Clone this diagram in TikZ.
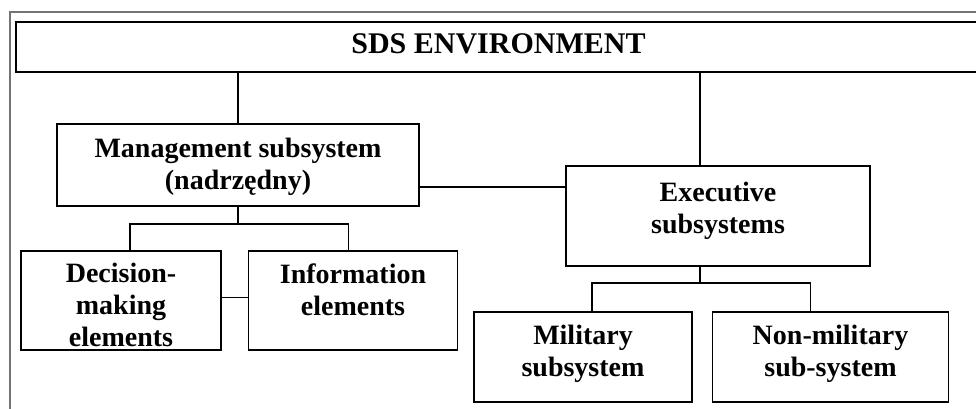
\documentclass[tikz,border=0pt]{standalone}
\usepackage{fontspec}
\setmainfont{Liberation Serif}
\usetikzlibrary{positioning}

\begin{document}
\begin{tikzpicture}[
    x=1pt, y=-1pt,
    font=\fontsize{28}{32}\selectfont\bfseries,
    box/.style={rectangle, draw=black, line width=1.5pt, inner sep=0pt},
    txt/.style={anchor=north, align=center, inner sep=0pt, yshift=-#1},
    txt/.default=14pt,
    link/.style={draw=black, line width=1.4pt},
    frame/.style={draw=black!55, line width=1.2pt}]

    \useasboundingbox (0,0) rectangle (976,408);
    \draw[frame] (10,430) |- (990,12);

    % top level
    \node[box, minimum width=965pt, minimum height=50pt,
          label={[txt=12pt, font=\fontsize{30}{34}\selectfont\bfseries]north:SDS ENVIRONMENT}]
      (env) at (498.5,47) {};

    \node[box, minimum width=362pt, minimum height=82pt,
          label={[txt=15pt]north:Management subsystem\\(nadrzędny)}]
      (mgmt) at (238,165) {};

    \node[box, minimum width=304pt, minimum height=100pt,
          label={[txt=17pt]north:Executive\\subsystems}]
      (exec) at (718,216) {};

    % elements of the management subsystem
    \node[box, minimum width=200pt, minimum height=99pt,
          label={[txt=13pt]north:Decision-\\making\\elements}]
      (dec) at (121,300.5) {};

    \node[box, minimum width=209pt, minimum height=99pt, right=26pt of dec,
          label={[txt=13pt]north:Information\\elements}]
      (info) {};

    % executive subsystems
    \node[box, minimum width=218pt, minimum height=90pt,
          label={[txt=14pt]north:Military\\subsystem}]
      (mil) at (583,357) {};

    \node[box, minimum width=236pt, minimum height=90pt, right=19pt of mil,
          label={[txt=14pt]north:Non-military\\sub-system}]
      (nonmil) {};

    % connections
    \draw[link] (mgmt.north) -- (mgmt.north |- env.south);
    \draw[link] ([xshift=-18pt]exec.north) -- ([xshift=-18pt]exec.north |- env.south);
    \draw[link] ([yshift=-22pt]mgmt.east) -- ([yshift=-22pt]mgmt.east -| exec.west);

    \coordinate (mbar) at (238,224);
    \draw[link] (mgmt.south) -- (mbar);
    \draw[link] ([xshift=9pt]dec.north) |- (mbar) -| ([xshift=-4.5pt]info.north);
    \draw[link] ([yshift=3pt]dec.east) -- ([yshift=3pt]info.west);

    \coordinate (ebar) at (700,283);
    \draw[link] ([xshift=-18pt]exec.south) -- (ebar);
    \draw[link] ([xshift=9pt]mil.north) |- (ebar) -| ([xshift=-20pt]nonmil.north);
\end{tikzpicture}
\end{document}
